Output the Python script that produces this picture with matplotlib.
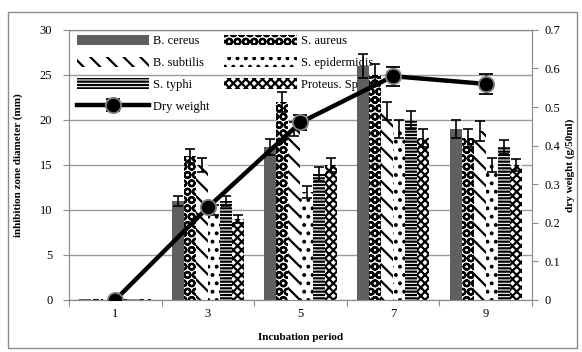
import matplotlib.pyplot as plt
import numpy as np
from matplotlib.patches import Rectangle
from matplotlib.ticker import FuncFormatter

# -----------------------------------------------------------------------------
# Data
# -----------------------------------------------------------------------------

PERIODS = ["1", "3", "5", "7", "9"]

SPECIES = ["B. cereus", "S. aureus", "B. subtilis", "S. epidermidis", "S. typhi", "Proteus. Sp"]

B_CEREUS = [0.15, 11, 17, 26, 19]
S_AUREUS = [0.15, 16, 22, 25, 18]
B_SUBTILIS = [0.15, 15, 19, 21, 18.8]
S_EPIDERMIDIS = [0.15, 10, 12, 19, 15]
S_TYPHI = [0.15, 11, 14, 20, 17]
PROTEUS = [0.15, 9, 15, 18, 15]

B_CEREUS_ERR = [0, 0.6, 0.9, 1.3, 1.0]
S_AUREUS_ERR = [0, 0.8, 1.1, 1.2, 1.0]
B_SUBTILIS_ERR = [0, 0.8, 0.8, 1.0, 1.1]
S_EPIDERMIDIS_ERR = [0, 0.6, 0.7, 1.0, 0.8]
S_TYPHI_ERR = [0, 0.6, 0.8, 1.0, 0.8]
PROTEUS_ERR = [0, 0.4, 0.8, 1.0, 0.7]

DRY_WEIGHT = [0.0, 0.24, 0.46, 0.58, 0.56]
DRY_WEIGHT_ERR = [0.0, 0.01, 0.02, 0.025, 0.025]

# -----------------------------------------------------------------------------
# Style
# -----------------------------------------------------------------------------

FONT = "Liberation Serif"
FONT_SIZE = 9
GRID_COLOR = "#9a9a9a"
SPINE_COLOR = "#8c8c8c"

BAR_STYLES = [
    dict(facecolor="#5f5f5f", hatch=None),
    dict(facecolor="white", hatch="OO"),
    dict(facecolor="white", hatch="\\\\"),
    dict(facecolor="white", hatch=".."),
    dict(facecolor="white", hatch="-----"),
    dict(facecolor="white", hatch="xxxx"),
]

plt.rcParams["font.family"] = FONT
plt.rcParams["font.size"] = FONT_SIZE
plt.rcParams["hatch.linewidth"] = 1.6
plt.rcParams["hatch.color"] = "black"


def plot():
    series = [B_CEREUS, S_AUREUS, B_SUBTILIS, S_EPIDERMIDIS, S_TYPHI, PROTEUS]
    errors = [B_CEREUS_ERR, S_AUREUS_ERR, B_SUBTILIS_ERR, S_EPIDERMIDIS_ERR, S_TYPHI_ERR, PROTEUS_ERR]

    fig = plt.figure(figsize=(5.82, 3.52), dpi=100)
    ax = fig.add_axes([0.1186, 0.148, 0.7954, 0.767])

    # outer chart border
    fig.patches.append(
        Rectangle((0.014, 0.012), 0.978, 0.955, transform=fig.transFigure,
                  fill=False, edgecolor="#8c8c8c", linewidth=1.0)
    )

    x = np.arange(len(PERIODS))
    width = 0.13
    n = len(series)
    bar_handles = []
    for i, (vals, errs, style, name) in enumerate(zip(series, errors, BAR_STYLES, SPECIES)):
        pos = x + (i - (n - 1) / 2) * width
        bars = ax.bar(
            pos, vals, width=width,
            facecolor=style["facecolor"], hatch=style["hatch"],
            edgecolor="black" if style["hatch"] else style["facecolor"],
            linewidth=0, label=name, zorder=2,
        )
        e = np.array(errs)
        mask = e > 0
        ax.errorbar(pos[mask], np.array(vals)[mask], yerr=e[mask], fmt="none",
                    ecolor="black", elinewidth=1.2, capsize=3.5, capthick=1.2, zorder=3)
        bar_handles.append(bars)

    ax.set_ylim(0, 30)
    ax.set_yticks(range(0, 31, 5))
    ax.set_xlim(-0.5, len(PERIODS) - 0.5)
    ax.yaxis.grid(True, color=GRID_COLOR, linewidth=1.0, zorder=0)
    ax.set_axisbelow(True)

    # Excel-like category axis: ticks between groups, labels at the centers
    ax.set_xticks(np.arange(-0.5, len(PERIODS)), labels=[""] * (len(PERIODS) + 1))
    ax.set_xticks(x, labels=PERIODS, minor=True)
    ax.tick_params(axis="x", which="major", length=4, color=SPINE_COLOR, direction="out")
    ax.tick_params(axis="x", which="minor", length=0, pad=6, labelsize=FONT_SIZE)
    ax.tick_params(axis="y", length=4, color=SPINE_COLOR, labelsize=FONT_SIZE, pad=8)

    for sp in ax.spines.values():
        sp.set_color(SPINE_COLOR)

    ax.set_xlabel("Incubation period", fontsize=8, fontweight="bold", labelpad=9)
    ax.set_ylabel("inhibition zone diameter (mm)", fontsize=8, fontweight="bold", labelpad=12)

    ax2 = ax.twinx()
    line = ax2.errorbar(
        x, DRY_WEIGHT, yerr=DRY_WEIGHT_ERR, color="black", linewidth=3.2,
        marker="o", markersize=11, markerfacecolor="black", markeredgecolor="#808080",
        markeredgewidth=1.3, ecolor="black", elinewidth=1.0, capsize=5, capthick=1.0,
        label="Dry weight", zorder=5,
    )
    ax2.set_ylim(0, 0.7)
    ax2.set_yticks(np.arange(0, 0.71, 0.1))
    ax2.yaxis.set_major_formatter(FuncFormatter(lambda v, _: "0" if abs(v) < 1e-9 else f"{v:.1f}"))
    ax2.tick_params(axis="y", length=4, color=SPINE_COLOR, labelsize=FONT_SIZE, pad=5)
    for sp in ax2.spines.values():
        sp.set_color(SPINE_COLOR)
    ax2.set_ylabel("dry weight (g/50ml)", fontsize=8, fontweight="bold", labelpad=4)

    handles = [bar_handles[0], bar_handles[2], bar_handles[4], line,
               bar_handles[1], bar_handles[3], bar_handles[5]]
    labels = ["B. cereus", "B. subtilis", "S. typhi", "Dry weight",
              "S. aureus", "S. epidermidis", "Proteus. Sp"]
    ax2.legend(
        handles, labels, ncol=2, loc="upper left", bbox_to_anchor=(0.0, 1.01),
        frameon=False, fontsize=FONT_SIZE, handlelength=5.8, handleheight=0.9,
        handletextpad=0.3, columnspacing=1.2, labelspacing=0.75, borderaxespad=0.2,
    )

    fig.savefig("out.png", dpi=100)
    plt.close(fig)


if __name__ == "__main__":
    plot()
